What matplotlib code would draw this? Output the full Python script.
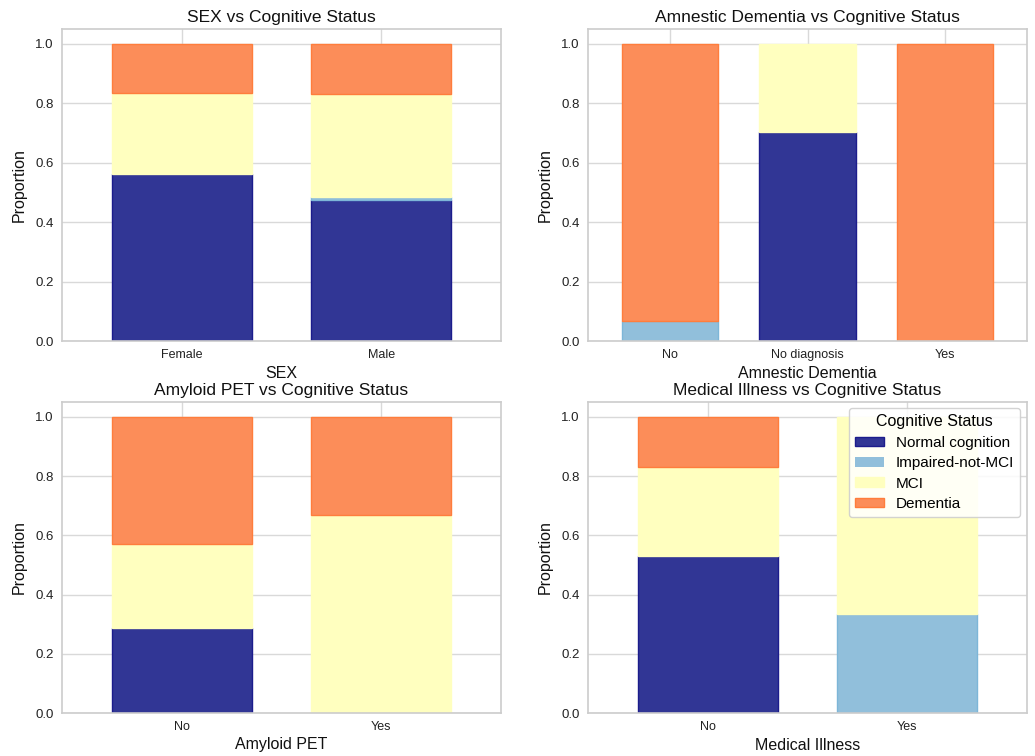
import matplotlib
matplotlib.use("Agg")
import matplotlib.pyplot as plt
import numpy as np

plt.rcParams["font.family"] = ["Liberation Sans", "DejaVu Sans"]

statuses = ["Normal cognition", "Impaired-not-MCI", "MCI", "Dementia"]
colors = ["#313695", "#91bfdb", "#ffffbf", "#fc8d59"]
edges = ["#1c1c8c", "#7db6d8", "#ffffbf", "#ff7d3c"]

sex_cats = ["Female", "Male"]
sex_vals = {"Normal cognition": [0.562, 0.474],
            "Impaired-not-MCI": [0.0, 0.011],
            "MCI": [0.271, 0.345],
            "Dementia": [0.167, 0.170]}

amn_cats = ["No", "No diagnosis", "Yes"]
amn_vals = {"Normal cognition": [0.0, 0.705, 0.0],
            "Impaired-not-MCI": [0.068, 0.0, 0.0],
            "MCI": [0.0, 0.295, 0.0],
            "Dementia": [0.932, 0.0, 1.0]}

pet_cats = ["No", "Yes"]
pet_vals = {"Normal cognition": [0.286, 0.0],
            "Impaired-not-MCI": [0.0, 0.0],
            "MCI": [0.286, 0.667],
            "Dementia": [0.428, 0.333]}

med_cats = ["No", "Yes"]
med_vals = {"Normal cognition": [0.529, 0.0],
            "Impaired-not-MCI": [0.0, 0.333],
            "MCI": [0.302, 0.667],
            "Dementia": [0.169, 0.0]}

panels = [
    ("SEX", sex_cats, sex_vals, [62, 29, 501, 341]),
    ("Amnestic Dementia", amn_cats, amn_vals, [588, 29, 1027, 341]),
    ("Amyloid PET", pet_cats, pet_vals, [62, 402, 501, 713]),
    ("Medical Illness", med_cats, med_vals, [588, 402, 1027, 713]),
]

W, H = 1035, 756
fig = plt.figure(figsize=(W / 100, H / 100), dpi=100)
fig.patch.set_facecolor("white")

for i, (name, cats, vals, (x0, y0, x1, y1)) in enumerate(panels):
    ax = fig.add_axes([x0 / W, 1 - y1 / H, (x1 - x0) / W, (y1 - y0) / H])
    x = np.arange(len(cats))
    bottom = np.zeros(len(cats))
    handles = []
    for s, c, e in zip(statuses, colors, edges):
        v = np.array(vals[s])
        lws = [1.0 if vv > 0 else 0.0 for vv in v]
        h = ax.bar(x, v, 0.7, bottom=bottom, color=c, edgecolor=e,
                   linewidth=lws, label=s, zorder=2)
        handles.append(h)
        bottom += v
    ax.set_xlim(-0.6, len(cats) - 0.4)
    ax.set_ylim(0, 1.05)
    ax.set_xticks(x)
    ax.set_xticklabels(cats, fontsize=9, color="#222222")
    ax.set_yticks([0, 0.2, 0.4, 0.6, 0.8, 1.0])
    ax.set_yticklabels(["0.0", "0.2", "0.4", "0.6", "0.8", "1.0"], fontsize=9.5, color="#222222")
    ax.tick_params(length=0, pad=6)
    ax.grid(True, color="#d9d9d9", linewidth=1.0, zorder=0)
    ax.set_axisbelow(True)
    for sp in ax.spines.values():
        sp.set_color("#cccccc")
        sp.set_linewidth(1.2)
    ax.set_title(f"{name} vs Cognitive Status", fontsize=12.5, color="#111111", pad=5)
    ax.set_xlabel(name, fontsize=11.5, color="#111111", labelpad=3)
    ax.set_ylabel("Proportion", fontsize=11.5, color="#111111", labelpad=6)
    if i == 3:
        leg = ax.legend(handles=handles, labels=statuses, title="Cognitive Status",
                        loc="upper right", fontsize=11, title_fontsize=11.5,
                        frameon=True, framealpha=0.85, edgecolor="#cccccc",
                        bbox_to_anchor=(0.985, 0.98), borderaxespad=0.0,
                        handlelength=1.9, handleheight=0.6,
                        handletextpad=0.8, labelspacing=0.42, borderpad=0.4)

fig.savefig("out.png", dpi=100, facecolor="white")
